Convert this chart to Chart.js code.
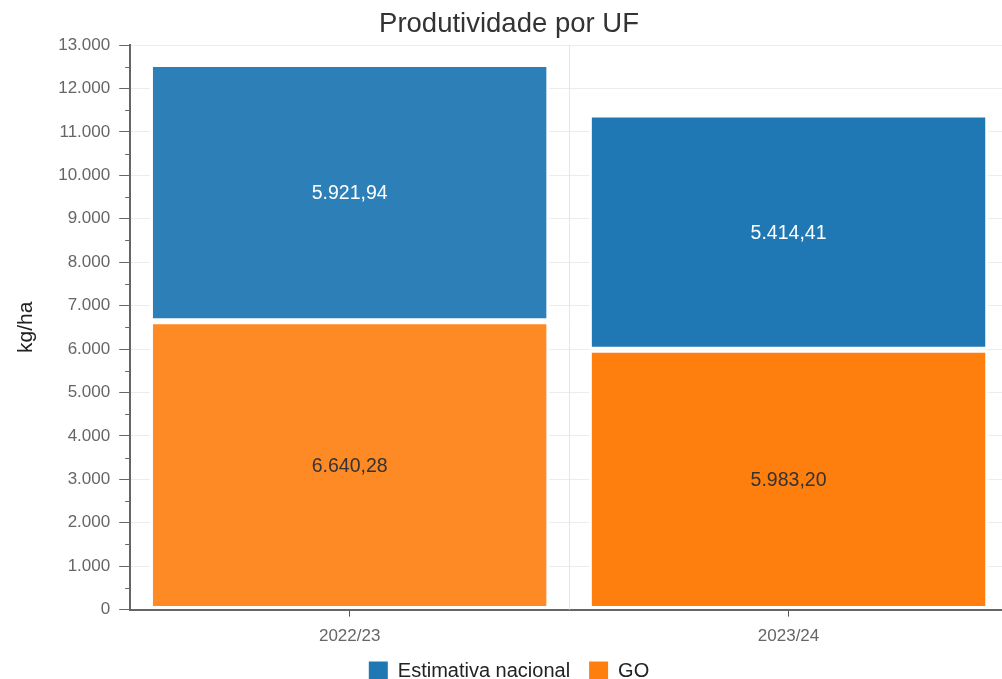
<!DOCTYPE html>
<html>
<head>
<meta charset="utf-8">
<script src="https://cdn.jsdelivr.net/npm/chart.js@4.4.0/dist/chart.umd.min.js"></script>
<style>
  html, body { margin: 0; padding: 0; overflow: hidden; background: #fff; }
  #wrap { position: absolute; left: 0; top: 0; }
</style>
</head>
<body>
<div id="wrap"><canvas id="myChart" width="1016" height="691"></canvas></div>
<script>
// dados
const safras = ['2022/23', '2023/24'];
const goValores = [6640.28, 5983.20];
const nacionalValores = [5921.94, 5414.41];
const yMax = 13000;
const yPasso = 1000;

function formatBR(v, dec) {
    const parts = v.toFixed(dec).split('.');
    parts[0] = parts[0].replace(/\B(?=(\d{3})+(?!\d))/g, '.');
    return parts.join(',');
}

const fonte = "'Liberation Sans', Arial, sans-serif";

// rótulos no meio de cada barra
const rotulos = {
    id: 'rotulos',
    afterDatasetsDraw(chart) {
        const ctx = chart.ctx;
        ctx.save();
        ctx.font = '19.5px ' + fonte;
        ctx.textAlign = 'center';
        ctx.textBaseline = 'middle';
        chart.data.datasets.forEach((ds, i) => {
            chart.getDatasetMeta(i).data.forEach((bar, j) => {
                const p = bar.getProps(['x', 'y', 'base'], true);
                ctx.fillStyle = ds.labelColor;
                ctx.fillText(formatBR(ds.data[j], 2), p.x, (p.y + p.base) / 2 + 1);
            });
        });
        ctx.restore();
    }
};

// linha vertical entre categorias + ticks menores no eixo y
const extras = {
    id: 'extras',
    beforeDatasetsDraw(chart) {
        const x = chart.scales.x, ctx = chart.ctx, area = chart.chartArea;
        ctx.save();
        ctx.strokeStyle = '#e6e6e6';
        ctx.lineWidth = 1;
        for (let i = 0; i < safras.length - 1; i++) {
            const px = Math.round(x.getPixelForValue(i + 0.5)) + 0.5;
            ctx.beginPath();
            ctx.moveTo(px, area.top);
            ctx.lineTo(px, area.bottom);
            ctx.stroke();
        }
        ctx.restore();
    },
    afterDraw(chart) {
        const y = chart.scales.y, ctx = chart.ctx;
        ctx.save();
        ctx.strokeStyle = '#666';
        ctx.lineWidth = 1;
        for (let v = yPasso / 2; v < yMax; v += yPasso) {
            const py = Math.round(y.getPixelForValue(v)) + 0.5;
            ctx.beginPath();
            ctx.moveTo(y.right - 5, py);
            ctx.lineTo(y.right, py);
            ctx.stroke();
        }
        ctx.restore();
    }
};

const ctx = document.getElementById('myChart').getContext('2d');
const chart = new Chart(ctx, {
    type: 'bar',
    data: {
        labels: safras,
        datasets: [
            {
                label: 'GO',
                data: goValores,
                backgroundColor: ['#fd8a24', '#ff7f0e'],
                borderColor: '#ffffff',
                borderWidth: 3,
                borderSkipped: false,
                labelColor: '#333333'
            },
            {
                label: 'Estimativa nacional',
                data: nacionalValores,
                backgroundColor: ['#2d7fb8', '#1f77b4'],
                borderColor: '#ffffff',
                borderWidth: 3,
                borderSkipped: false,
                labelColor: '#ffffff'
            }
        ]
    },
    options: {
        responsive: false,
        animation: false,
        categoryPercentage: 1,
        barPercentage: 0.91,
        layout: { padding: { left: 10, right: 8, top: 0, bottom: 0 } },
        plugins: {
            title: {
                display: true,
                text: 'Produtividade por UF',
                color: '#333',
                font: { family: fonte, size: 27.5, weight: 'normal' },
                padding: { top: 8, bottom: 4 }
            },
            legend: {
                position: 'bottom',
                reverse: true,
                labels: {
                    color: '#222',
                    font: { family: fonte, size: 20 },
                    boxWidth: 19,
                    boxHeight: 19,
                    padding: 19,
                    generateLabels: (chart) => {
                        const itens = Chart.defaults.plugins.legend.labels.generateLabels(chart);
                        itens.forEach((it, i) => {
                            it.lineWidth = 0;
                            it.fillStyle = i === 0 ? '#ff7f0e' : '#1f77b4';
                        });
                        return itens;
                    }
                }
            },
            tooltip: { enabled: false }
        },
        scales: {
            x: {
                stacked: true,
                grid: {
                    offset: false,
                    drawOnChartArea: false,
                    tickLength: 7,
                    tickColor: '#555'
                },
                border: { color: '#666', width: 2 },
                ticks: {
                    color: '#666',
                    font: { family: fonte, size: 17 },
                    padding: 10
                },
                afterFit: (scale) => { scale.height -= 15; }
            },
            y: {
                stacked: true,
                min: 0,
                max: yMax,
                grid: {
                    color: '#ececec',
                    tickColor: '#666',
                    tickLength: 11
                },
                border: { color: '#666', width: 2 },
                ticks: {
                    stepSize: yPasso,
                    color: '#666',
                    font: { family: fonte, size: 17 },
                    padding: 9,
                    callback: (v) => formatBR(v, 0)
                },
                title: {
                    display: true,
                    text: 'kg/ha',
                    color: '#222',
                    font: { family: fonte, size: 21 },
                    padding: { top: 4, bottom: 10 }
                }
            }
        }
    },
    plugins: [rotulos, extras]
});
</script>
</body>
</html>
